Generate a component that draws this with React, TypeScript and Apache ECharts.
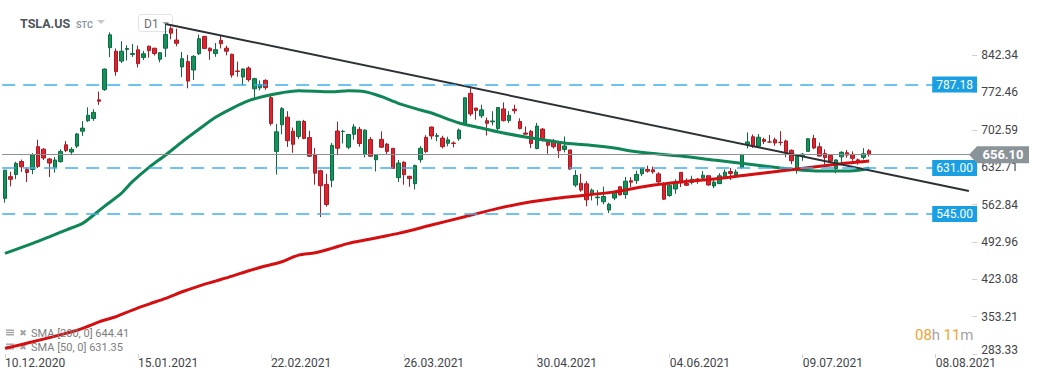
import React, { useEffect, useRef } from "react";
import * as echarts from "echarts";

// ---------- data ----------
const tickLabels = ["10.12.2020", "15.01.2021", "22.02.2021", "26.03.2021", "30.04.2021", "04.06.2021", "09.07.2021", "08.08.2021"];
const TICK_STEP = 24;
const CATEGORY_COUNT = 176;

const opens = [
  574.37, 615.01, 619.0, 643.28, 628.23, 628.19, 671.0, 666.24, 648.0, 632.2,
  642.99, 674.51, 661.0, 672.0, 699.99, 719.46, 723.66, 758.49, 777.63, 856.0,
  849.4, 831.0, 852.76, 843.39, 852.0, 837.8, 858.74, 855.0, 834.31, 855.0,
  891.38, 870.35, 820.0, 830.0, 814.29, 844.68, 877.02, 855.0, 845.0, 869.67,
  855.12, 843.64, 812.44, 801.26, 818.0, 779.09, 780.9, 795.0, 762.64, 662.13,
  711.85, 726.15, 700.0, 690.11, 718.28, 687.99, 655.8, 626.06, 600.55, 608.18,
  700.3, 699.4, 670.0, 694.09, 703.35, 656.87, 684.29, 646.6, 684.59, 675.77,
  667.91, 613.0, 641.87, 615.64, 601.75, 646.62, 688.37, 707.71, 690.3, 687.0,
  677.38, 677.77, 685.7, 712.7, 770.7, 743.1, 728.65, 719.6, 717.42, 704.77,
  741.5, 719.8, 741.0, 717.96, 696.41, 699.51, 667.59, 703.8, 678.94, 681.06,
  680.76, 665.8, 664.9, 599.24, 602.49, 601.54, 583.41, 575.55, 568.0, 552.55,
  575.0, 596.11, 581.6, 607.31, 607.56, 620.24, 628.5, 627.8, 620.13, 601.8,
  579.71, 591.83, 623.01, 602.17, 603.88, 610.23, 612.23, 616.69, 597.54, 601.89,
  613.37, 624.48, 618.25, 632.0, 674.99, 689.58, 671.64, 684.65, 679.77, 683.92,
  678.98, 681.71, 664.27, 628.37, 653.18, 662.2, 686.32, 670.75, 658.39, 654.68,
  629.89, 651.99, 659.61, 656.44, 646.36, 650.97, 663.4,
];
const highs = [
  627.75, 624.0, 642.75, 646.9, 632.5, 658.82, 684.0, 668.5, 649.88, 651.5,
  666.09, 681.4, 669.9, 696.6, 718.72, 744.49, 740.84, 774.0, 816.99, 884.49,
  854.43, 868.0, 860.47, 863.0, 859.9, 850.0, 859.5, 855.72, 848.0, 900.4,
  895.9, 891.5, 848.0, 842.41, 842.0, 880.5, 878.08, 856.5, 864.77, 877.77,
  859.8, 844.82, 829.88, 817.33, 821.0, 799.84, 794.69, 796.79, 768.5, 713.61,
  745.0, 737.21, 706.7, 719.0, 721.11, 700.7, 668.45, 627.84, 620.13, 678.09,
  717.85, 702.5, 694.88, 713.18, 707.92, 703.73, 689.23, 657.23, 699.62, 677.8,
  668.02, 646.2, 643.82, 616.48, 637.66, 672.0, 692.42, 708.16, 696.55, 691.38,
  689.55, 680.97, 704.8, 763.0, 780.79, 743.69, 749.41, 725.4, 737.25, 744.84,
  753.77, 737.36, 749.3, 724.0, 708.5, 702.25, 715.47, 706.0, 683.45, 685.3,
  681.02, 690.0, 665.05, 627.1, 620.41, 606.46, 592.87, 589.73, 596.25, 566.21,
  588.85, 596.68, 614.48, 613.99, 626.17, 631.13, 635.59, 633.8, 623.36, 604.55,
  600.61, 610.0, 623.09, 611.79, 616.59, 612.56, 625.49, 616.79, 608.5, 621.47,
  628.35, 631.39, 628.57, 657.2, 697.62, 693.81, 694.7, 687.51, 692.81, 687.99,
  700.0, 684.0, 665.7, 654.43, 658.91, 687.24, 693.28, 678.61, 666.14, 656.7,
  647.2, 662.39, 664.86, 662.17, 648.8, 668.2, 666.5,
];
const lows = [
  566.34, 596.8, 610.2, 623.8, 605.0, 619.5, 631.0, 646.07, 614.23, 622.57,
  641.0, 660.8, 655.0, 668.36, 691.12, 717.19, 719.2, 749.1, 775.2, 838.39,
  803.62, 827.34, 832.0, 838.75, 819.1, 833.0, 837.28, 841.42, 828.62, 838.82,
  871.6, 858.66, 801.0, 780.1, 795.56, 842.2, 853.06, 833.42, 838.97, 854.75,
  841.75, 800.02, 801.73, 785.33, 792.44, 762.01, 776.27, 777.37, 710.2, 619.0,
  694.17, 670.58, 659.51, 685.05, 685.0, 651.71, 600.0, 539.49, 558.79, 595.21,
  655.06, 677.18, 666.14, 684.04, 671.0, 651.01, 652.0, 624.62, 668.75, 657.51,
  630.11, 605.0, 599.89, 596.02, 591.01, 641.11, 659.42, 684.7, 681.37, 667.84,
  671.65, 669.43, 682.09, 710.66, 728.03, 721.31, 724.6, 691.8, 710.69, 698.0,
  718.04, 715.46, 732.61, 703.35, 693.6, 668.5, 666.14, 680.5, 657.7, 667.34,
  650.0, 660.22, 627.61, 595.6, 586.77, 559.65, 570.46, 561.2, 563.38, 546.98,
  571.07, 580.0, 573.65, 595.71, 601.5, 616.21, 622.38, 620.55, 599.14, 571.22,
  577.2, 582.88, 595.5, 597.63, 600.5, 601.52, 609.18, 598.23, 593.5, 601.34,
  611.8, 608.88, 615.5, 630.04, 667.61, 668.7, 670.32, 675.89, 678.14, 672.8,
  673.26, 651.4, 638.32, 620.46, 644.69, 662.16, 666.3, 652.84, 637.88, 642.2,
  621.29, 640.5, 650.29, 644.6, 637.3, 647.11, 652.5,
];
const closes = [
  627.07, 609.99, 639.83, 633.25, 622.77, 655.9, 634.0, 649.86, 640.34, 645.98,
  661.77, 663.69, 665.99, 694.78, 705.67, 729.77, 735.11, 755.98, 816.04, 880.02,
  811.19, 849.44, 854.41, 845.0, 826.16, 844.55, 850.45, 844.99, 846.64, 880.8,
  883.09, 864.16, 835.43, 793.53, 839.81, 872.79, 854.69, 849.99, 852.23, 863.42,
  849.46, 804.82, 811.66, 816.12, 796.22, 798.15, 787.38, 781.3, 714.5, 698.84,
  742.02, 682.22, 675.5, 718.43, 686.44, 653.2, 621.44, 597.95, 563.0, 673.58,
  668.06, 699.6, 693.73, 707.94, 676.88, 701.81, 653.16, 654.87, 670.0, 662.16,
  630.27, 640.39, 618.71, 611.29, 635.62, 667.93, 661.75, 691.05, 691.62, 670.97,
  683.8, 677.02, 701.98, 762.32, 732.23, 738.85, 739.78, 714.63, 718.99, 744.12,
  719.69, 729.4, 738.2, 704.74, 694.4, 677.0, 709.44, 684.9, 673.6, 670.94,
  663.54, 672.37, 629.04, 617.2, 589.89, 571.69, 589.74, 576.83, 577.87, 563.46,
  586.78, 580.88, 606.44, 604.69, 619.13, 630.85, 625.22, 623.9, 605.12, 572.84,
  599.05, 605.13, 603.59, 598.78, 610.12, 609.89, 617.69, 599.36, 604.87, 616.6,
  623.31, 620.83, 623.71, 656.57, 679.82, 671.87, 688.72, 680.76, 679.7, 677.92,
  678.9, 659.58, 644.65, 652.81, 656.95, 685.7, 668.54, 653.38, 650.6, 644.22,
  646.22, 660.5, 655.29, 649.26, 643.38, 657.62, 656.1,
];

const sma50Idx = [0, 5, 8, 11, 14, 16, 18, 21, 23, 26, 29, 32, 35, 38, 41, 44, 47, 50, 53, 59, 62, 65, 68, 71, 75, 77, 82, 86, 90, 95, 101, 107, 110, 113, 116, 122, 128, 134, 140, 144, 147, 152, 155, 156];
const sma50Val = [471.6, 490.3, 502.6, 515.2, 527.7, 543.2, 560, 583.8, 605.5, 632.4, 655.4, 680.2, 703.4, 725.8, 742.7, 756.9, 765.7, 771.9, 775.6, 773.7, 775.6, 773.7, 764.4, 752, 739.5, 733.9, 715.2, 705.9, 696.5, 687.2, 677.8, 672.2, 668.5, 662.9, 659.1, 653.5, 646, 638.6, 631.1, 627, 625.5, 625.5, 628.5, 631.35];

const sma200Idx = [0, 5, 11, 14, 17, 20, 23, 26, 29, 32, 35, 38, 41, 44, 47, 50, 53, 56, 59, 62, 65, 68, 71, 77, 83, 89, 95, 101, 110, 116, 122, 128, 134, 140, 146, 152, 156];
const sma200Val = [294, 306.3, 322, 331.3, 343.7, 353.1, 365.6, 376.8, 387.5, 399.8, 410.5, 419.8, 429.1, 439.1, 447.9, 455.9, 468.4, 472.7, 481, 490.3, 496.5, 502.6, 509, 524.5, 540, 555.7, 568.1, 576.3, 586.5, 597.4, 604.9, 610.5, 618, 625.5, 633, 640.4, 644.41];

const trendIdx = [29, 174];
const trendVal = [900.4, 588];

const levels = [787.18, 631.0, 545.0];
const lastPrice = 656.1;
const sma200Last = 644.41;
const sma50Last = 631.35;

const yMin = 283.33;
const yStep = 69.87625;
const yMax = yMin + 9 * yStep;

// ---------- styles ----------
const FONT = "Roboto, 'Noto Sans', sans-serif";
const GREEN = "#15925b";
const GREEN_B = "#0b6b41";
const RED = "#dc2330";
const RED_B = "#a81a23";

export default function App() {
  const ref = useRef<HTMLDivElement>(null);

  useEffect(() => {
    if (!ref.current) return;
    const chart = echarts.init(ref.current, null, { renderer: "svg" });

    const categories = Array.from({ length: CATEGORY_COUNT }, (_, i) =>
      i % TICK_STEP === 0 && tickLabels[i / TICK_STEP] ? tickLabels[i / TICK_STEP] : "c" + i
    );
    const showTick = (i: number) => i % TICK_STEP === 0;
    const candles = opens.map((o, i) => [o, closes[i], lows[i], highs[i]]);
    const sma50 = sma50Idx.map((x, i) => [x, sma50Val[i]]);
    const sma200 = sma200Idx.map((x, i) => [x, sma200Val[i]]);
    const trend = trendIdx.map((x, i) => [x, trendVal[i]]);

    chart.setOption({
      animation: false,
      backgroundColor: "#ffffff",
      textStyle: { fontFamily: FONT },
      grid: { left: 2.2, right: 63.8, top: 17.6, bottom: 25.9, containLabel: false },
      xAxis: {
        type: "category",
        data: categories,
        boundaryGap: true,
        axisLine: { show: false },
        axisTick: { show: true, interval: (i: number) => showTick(i), alignWithLabel: true, length: 4, lineStyle: { color: "#d0d0d0" } },
        axisLabel: {
          interval: (i: number) => showTick(i),
          align: "left",
          margin: 3,
          fontSize: 12,
          color: "#3f4448",
          fontFamily: FONT,
        },
        splitLine: { show: false },
      },
      yAxis: {
        type: "value",
        position: "right",
        min: yMin,
        max: yMax,
        interval: yStep,
        scale: true,
        axisLine: { show: false },
        axisTick: { show: true, inside: true, length: 5, lineStyle: { color: "#d0d0d0" } },
        axisLabel: {
          showMaxLabel: false,
          margin: 4,
          fontSize: 12,
          color: "#3f4448",
          fontFamily: FONT,
          formatter: (v: number) => (Math.abs(v - yMin) < 0.01 ? `{lo|${v.toFixed(2)}}` : v.toFixed(2)),
          rich: {
            lo: { fontSize: 12, color: "#3f4448", fontFamily: FONT, padding: [0, 0, 9, 0] },
          },
        },
        splitLine: { show: false },
      },
      series: [
        {
          type: "candlestick",
          data: candles,
          barWidth: 4,
          itemStyle: { color: GREEN, color0: RED, borderColor: GREEN_B, borderColor0: RED_B, borderWidth: 1 },
          markLine: {
            silent: true,
            symbol: ["none", "none"],
            animation: false,
            data: [
              ...levels.map((v) => ({
                yAxis: v,
                lineStyle: { type: [13, 8], color: "#3fb0ec", width: 1.5 },
                label: {
                  show: true,
                  position: "end",
                  distance: 0,
                  offset: [-45, 0],
                  formatter: () => v.toFixed(2),
                  backgroundColor: "#1a9fe3",
                  color: "#ffffff",
                  padding: [2, 4, 2, 4],
                  fontSize: 12,
                  fontFamily: FONT,
                },
              })),
              {
                yAxis: lastPrice,
                lineStyle: { type: "solid", color: "#8c9196", width: 1 },
                label: { show: false },
              },
            ],
          },
          z: 2,
        },
        {
          type: "line",
          name: "SMA50",
          data: sma50,
          smooth: 0.3,
          showSymbol: false,
          lineStyle: { color: "#0e8656", width: 3 },
          z: 3,
        },
        {
          type: "line",
          name: "SMA200",
          data: sma200,
          smooth: 0.3,
          showSymbol: false,
          lineStyle: { color: "#d40f12", width: 3 },
          z: 3,
        },
        {
          type: "line",
          name: "trend",
          data: trend,
          showSymbol: false,
          lineStyle: { color: "#2c3135", width: 2 },
          z: 4,
        },
      ],
    });

    const py = chart.convertToPixel({ yAxisIndex: 0 }, lastPrice) as number;

    const grayTxt = "#7d7d7d";
    const legendIcon = (y: number) => [
      { type: "rect", shape: { x: 6, y: y - 3, width: 8, height: 1.4 }, style: { fill: "#a3a3a3" } },
      { type: "rect", shape: { x: 6, y: y - 0.7, width: 8, height: 1.4 }, style: { fill: "#a3a3a3" } },
      { type: "rect", shape: { x: 6, y: y + 1.6, width: 8, height: 1.4 }, style: { fill: "#a3a3a3" } },
      { type: "text", x: 23, y, style: { text: "✖", font: "9px 'DejaVu Sans'", fill: "#a3a3a3", textAlign: "center", textVerticalAlign: "middle" } },
    ];

    chart.setOption({
      graphic: [
        // header
        { type: "text", x: 20, y: 23.5, style: { text: "TSLA.US", font: `bold 12.5px ${FONT}`, fill: "#4d555b", textVerticalAlign: "middle" } },
        { type: "text", x: 76, y: 24.5, style: { text: "STC", font: `bold 9px ${FONT}`, fill: "#8d9aa4", textVerticalAlign: "middle" } },
        { type: "polygon", shape: { points: [[97, 20], [105, 20], [101, 24]] }, style: { fill: "#c3c9cd" } },
        { type: "rect", shape: { x: 138.5, y: 14.5, width: 34, height: 17, r: 3 }, style: { fill: "#ffffff", stroke: "#e1e3e5", lineWidth: 1 } },
        { type: "text", x: 144, y: 23.5, style: { text: "D1", font: `12px ${FONT}`, fill: "#6b7278", textVerticalAlign: "middle" } },
        { type: "polygon", shape: { points: [[162, 22], [169, 22], [165.5, 25]] }, style: { fill: "#a5acb1" } },
        // price tag
        {
          type: "polygon",
          shape: { points: [[969, py], [977, py - 8.5], [1029, py - 8.5], [1029, py + 8.5], [977, py + 8.5]] },
          style: { fill: "#8a9398" },
          z: 10,
        },
        { type: "text", x: 1003, y: py, z: 11, style: { text: lastPrice.toFixed(2), font: `bold 13px ${FONT}`, fill: "#ffffff", textAlign: "center", textVerticalAlign: "middle" } },
        // legend
        ...legendIcon(332.5),
        { type: "text", x: 31, y: 333, z: 10, style: { text: `SMA [200, 0] ${sma200Last.toFixed(2)}`, font: `11px ${FONT}`, fill: grayTxt, textVerticalAlign: "middle" } },
        ...legendIcon(346.5),
        { type: "text", x: 31, y: 347, z: 10, style: { text: `SMA [50, 0] ${sma50Last.toFixed(2)}`, font: `11px ${FONT}`, fill: grayTxt, textVerticalAlign: "middle" } },
        // countdown
        {
          type: "text",
          x: 915,
          y: 334.5,
          style: {
            text: "{o|08}{g|h} {o|11}{g|m}",
            textVerticalAlign: "middle",
            rich: {
              o: { fill: "#f7a133", fontSize: 15, fontFamily: FONT },
              g: { fill: "#a5a5a5", fontSize: 15, fontFamily: FONT },
            },
          },
        },
      ],
    });

    return () => chart.dispose();
  }, []);

  return <div ref={ref} style={{ position: "fixed", left: 0, top: 0, width: 1041, height: 380 }} />;
}
